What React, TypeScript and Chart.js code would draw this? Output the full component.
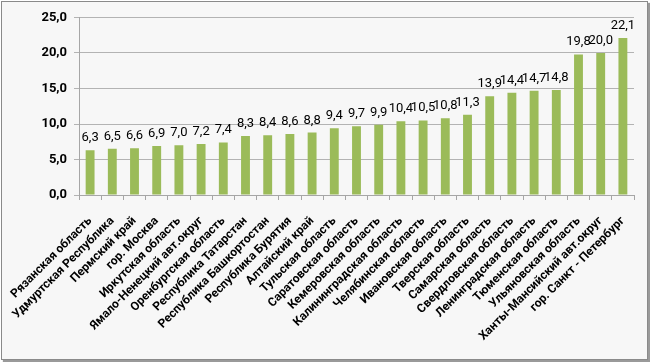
import React, { useEffect, useRef } from "react";
import { Chart, registerables } from "chart.js";

Chart.register(...registerables);

const categories: string[] = [
  "Рязанская область",
  "Удмуртская Республика",
  "Пермский край",
  "гор. Москва",
  "Иркутская область",
  "Ямало-Ненецкий авт.округ",
  "Оренбургская область",
  "Республика Татарстан",
  "Республика Башкортостан",
  "Республика Бурятия",
  "Алтайский край",
  "Тульская область",
  "Саратовская область",
  "Кемеровская область",
  "Калининградская область",
  "Челябинская область",
  "Ивановская область",
  "Тверская область",
  "Самарская область",
  "Свердловская область",
  "Ленинградская область",
  "Тюменская область",
  "Ульяновская область",
  "Ханты-Мансийский авт.округ",
  "гор. Санкт - Петербург",
];

const values: number[] = [
  6.3, 6.5, 6.6, 6.9, 7.0, 7.2, 7.4, 8.3, 8.4, 8.6, 8.8, 9.4, 9.7, 9.9, 10.4,
  10.5, 10.8, 11.3, 13.9, 14.4, 14.7, 14.8, 19.8, 20.0, 22.1,
];

const yTicks: number[] = [0, 5, 10, 15, 20, 25];

const fmt = (v: number) => v.toFixed(1).replace(".", ",");

const valueLabels = {
  id: "valueLabels",
  afterDatasetsDraw(chart: any) {
    const ctx = chart.ctx;
    const meta = chart.getDatasetMeta(0);
    ctx.save();
    ctx.font = "13px Roboto";
    ctx.fillStyle = "#000";
    ctx.textAlign = "center";
    ctx.textBaseline = "alphabetic";
    meta.data.forEach((el: any, i: number) => {
      ctx.fillText(fmt(values[i]), el.x, el.y - 9);
    });
    ctx.restore();
  },
};

export default function App() {
  const ref = useRef<HTMLCanvasElement | null>(null);

  useEffect(() => {
    if (!ref.current) return;
    const chart = new Chart(ref.current, {
      type: "bar",
      data: {
        labels: categories,
        datasets: [
          {
            data: values,
            backgroundColor: "#9bbb59",
            borderWidth: 0,
            barPercentage: 0.4,
            categoryPercentage: 1,
          },
        ],
      },
      options: {
        animation: false,
        responsive: false,
        maintainAspectRatio: false,
        layout: { padding: { top: 17.5, right: 16, bottom: 0, left: 0 } },
        plugins: {
          legend: { display: false },
          tooltip: { enabled: false },
          title: { display: false },
        },
        scales: {
          x: {
            offset: true,
            grid: {
              offset: true,
              drawOnChartArea: false,
              drawTicks: true,
              tickLength: 5,
              color: "#a6a6a6",
            },
            border: { color: "#a6a6a6" },
            ticks: {
              autoSkip: false,
              maxRotation: 45,
              minRotation: 45,
              padding: 14,
              color: "#000",
              font: { family: "Roboto", size: 12, weight: "bold" },
            },
            afterFit(scale: any) {
              scale.height = 167;
              scale.paddingLeft = 0;
              scale.paddingRight = 0;
            },
          },
          y: {
            min: 0,
            max: 25,
            afterBuildTicks(scale: any) {
              scale.ticks = yTicks.map((v) => ({ value: v }));
            },
            grid: { color: "#b3b3b3", tickLength: 5 },
            border: { color: "#a6a6a6" },
            ticks: {
              padding: 7,
              color: "#000",
              font: { family: "Roboto", size: 13, weight: "bold" },
              callback: (v: any) => fmt(Number(v)),
            },
            afterFit(scale: any) {
              scale.width = 79;
              scale.paddingTop = 0;
              scale.paddingBottom = 0;
            },
          },
        },
      },
      plugins: [valueLabels],
    });
    return () => chart.destroy();
  }, []);

  return (
    <div
      style={{
        position: "fixed",
        left: 0,
        top: 0,
        width: 650,
        height: 362,
        background: "#ffffff",
        overflow: "hidden",
      }}
    >
      <div
        style={{
          position: "absolute",
          left: 1,
          top: 1,
          width: 645,
          height: 357,
          border: "1px solid #8a8a8a",
          background: "#f7f7f7",
          boxShadow: "2px 2px 1px #9a9a9a",
        }}
      />
      <canvas
        ref={ref}
        width={650}
        height={362}
        style={{ position: "absolute", left: 0, top: 0, width: 650, height: 362 }}
      />
    </div>
  );
}
